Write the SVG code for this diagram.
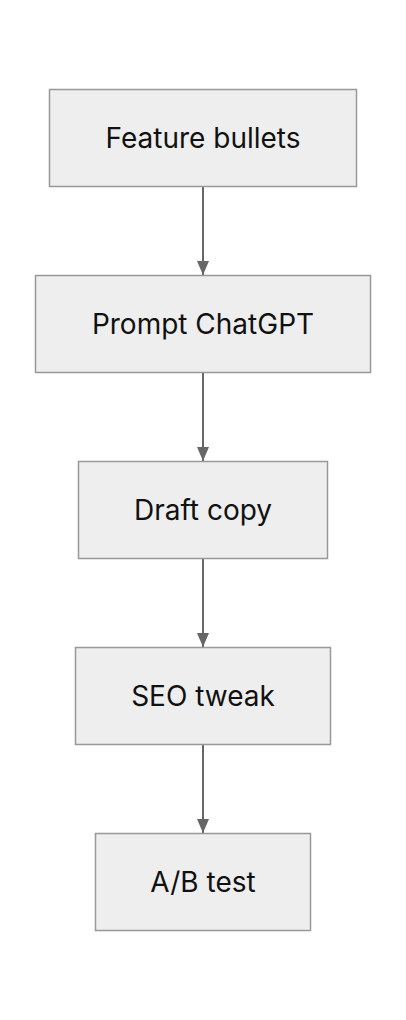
<svg xmlns="http://www.w3.org/2000/svg" width="406" height="1020" viewBox="0 0 406 1020">
<defs>
<style>
.box{fill:#eeeeee;stroke:#999999;stroke-width:1.5}
.lbl{font-family:Inter,"Noto Sans",sans-serif;font-size:28px;fill:#111111;text-anchor:middle;dominant-baseline:central}
.edge{stroke:#666666;stroke-width:2;fill:none}
</style>
<marker id="arr" viewBox="0 0 14 12" refX="14" refY="6" markerWidth="14" markerHeight="12" markerUnits="userSpaceOnUse" orient="auto">
<path d="M0,0 L14,6 L0,12 z" fill="#666666"/>
</marker>
</defs>
<rect width="406" height="1020" fill="#ffffff"/>
<g id="edges">
<path class="edge" d="M203,186 V275" marker-end="url(#arr)"/>
<path class="edge" d="M203,372 V461" marker-end="url(#arr)"/>
<path class="edge" d="M203,558 V647" marker-end="url(#arr)"/>
<path class="edge" d="M203,744 V833" marker-end="url(#arr)"/>
</g>
<g id="n1"><rect class="box" x="49.5" y="89.5" width="307" height="97"/><text class="lbl" x="203" y="138">Feature bullets</text></g>
<g id="n2"><rect class="box" x="35.5" y="275.5" width="335" height="97"/><text class="lbl" x="203" y="324">Prompt ChatGPT</text></g>
<g id="n3"><rect class="box" x="78.5" y="461.5" width="249" height="97"/><text class="lbl" x="203" y="510">Draft copy</text></g>
<g id="n4"><rect class="box" x="75.5" y="647.5" width="255" height="97"/><text class="lbl" x="203" y="696">SEO tweak</text></g>
<g id="n5"><rect class="box" x="95.5" y="833.5" width="215" height="97"/><text class="lbl" x="203" y="882">A/B test</text></g>
</svg>
